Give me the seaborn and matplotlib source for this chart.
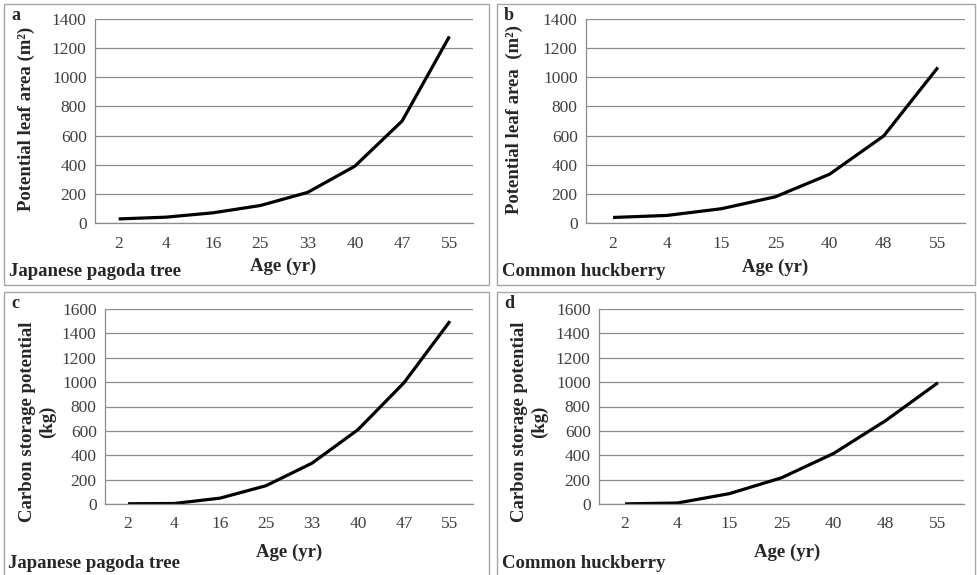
import numpy as np
import pandas as pd
import matplotlib
matplotlib.use("Agg")
import matplotlib.pyplot as plt
import seaborn as sns
from matplotlib.patches import Rectangle

# Data
pagoda_ages = ["2", "4", "16", "25", "33", "40", "47", "55"]
huck_ages = ["2", "4", "15", "25", "40", "48", "55"]

pagoda_leaf_area = [28, 40, 70, 120, 210, 390, 700, 1280]
huck_leaf_area = [38, 52, 98, 180, 335, 598, 1068]
pagoda_carbon = [2, 4, 48, 150, 335, 610, 995, 1500]
huck_carbon = [1, 8, 85, 215, 415, 685, 995]

sns.set_theme(style="white")
plt.rcParams["font.family"] = ["Liberation Serif", "DejaVu Serif"]

W, H = 977, 575
fig = plt.figure(figsize=(W / 100, H / 100), dpi=100)
fig.patch.set_facecolor("white")

GRID = "#8c8c8c"
TICK_TXT = "#404040"


def px_rect(x0, y0, x1, y1):
    """Pixel box (top-left origin) -> figure fraction [l, b, w, h]."""
    return [x0 / W, 1 - y1 / H, (x1 - x0) / W, (y1 - y0) / H]


def draw_panel(box, ax_box, ages, values, ymax, ylabel, letter, ylab_x, ylab_y):
    # panel border
    bx0, by0, bx1, by1 = box
    fig.patches.append(Rectangle((bx0 / W, 1 - by1 / H), (bx1 - bx0) / W, (by1 - by0) / H,
                                 transform=fig.transFigure, fill=False,
                                 edgecolor="#a6a6a6", linewidth=1.0))
    ax = fig.add_axes(px_rect(*ax_box))
    df = pd.DataFrame({"pos": np.arange(len(ages)), "value": values})
    sns.lineplot(data=df, x="pos", y="value", ax=ax, color="black",
                 linewidth=2.3, solid_capstyle="butt")
    n = len(ages)
    ax.set_xlim(-0.5, n - 0.5)
    ax.set_ylim(0, ymax)
    ax.set_yticks(np.arange(0, ymax + 1, 200))
    ax.yaxis.grid(True, color=GRID, linewidth=0.9)
    ax.set_axisbelow(True)
    # category ticks at the boundaries, labels at the centres
    ax.set_xticks(np.arange(-0.5, n, 1.0))
    ax.set_xticklabels([])
    ax.set_xticks(np.arange(n), minor=True)
    ax.set_xticklabels(ages, minor=True)
    ax.tick_params(axis="x", which="major", direction="out", length=5,
                   color=GRID, width=0.9)
    ax.tick_params(axis="x", which="minor", length=0, pad=9,
                   labelsize=12.5, labelcolor=TICK_TXT)
    ax.tick_params(axis="y", direction="out", length=3, color=GRID, width=0.9,
                   labelsize=12.5, labelcolor=TICK_TXT, pad=3)
    for side in ["top", "right"]:
        ax.spines[side].set_visible(False)
    for side in ["left", "bottom"]:
        ax.spines[side].set_color(GRID)
        ax.spines[side].set_linewidth(0.9)
    ax.set_xlabel("")
    ax.set_ylabel(ylabel, fontsize=13.5, fontweight="bold", linespacing=1.2)
    # label anchor sits on its right edge, given in pixels
    ax.yaxis.set_label_coords((ylab_x - ax_box[0]) / (ax_box[2] - ax_box[0]),
                              (ax_box[3] - ylab_y) / (ax_box[3] - ax_box[1]))
    fig.text((bx0 + 7) / W, 1 - (by0 + 11) / H, letter, fontsize=13,
             fontweight="bold", ha="left", va="center")
    return ax


draw_panel((4, 4, 489, 285), (95, 19, 473, 223), pagoda_ages, pagoda_leaf_area, 1400,
           "Potential leaf area (m²)", "a", 35, 119)
draw_panel((497, 4, 975, 285), (586, 19, 965, 223), huck_ages, huck_leaf_area, 1400,
           "Potential leaf area  (m²)", "b", 523, 119)
draw_panel((4, 292, 489, 578), (105, 309, 473, 504), pagoda_ages, pagoda_carbon, 1600,
           "Carbon storage potential\n(kg)", "c", 56, 422)
draw_panel((497, 292, 975, 578), (599, 309, 964, 504), huck_ages, huck_carbon, 1600,
           "Carbon storage potential\n(kg)", "d", 548, 422)

# x labels and species names
for x, y in [(283, 266), (775, 267), (289, 552), (787, 552)]:
    fig.text(x / W, 1 - y / H, "Age (yr)", fontsize=13.5, fontweight="bold",
             ha="center", va="center")
for x, y, name in [(9, 272, "Japanese pagoda tree"), (502, 272, "Common huckberry"),
                   (8, 563, "Japanese pagoda tree"), (502, 563, "Common huckberry")]:
    fig.text(x / W, 1 - y / H, name, fontsize=13.5, fontweight="bold",
             ha="left", va="center")

fig.savefig("out.png", dpi=100)
